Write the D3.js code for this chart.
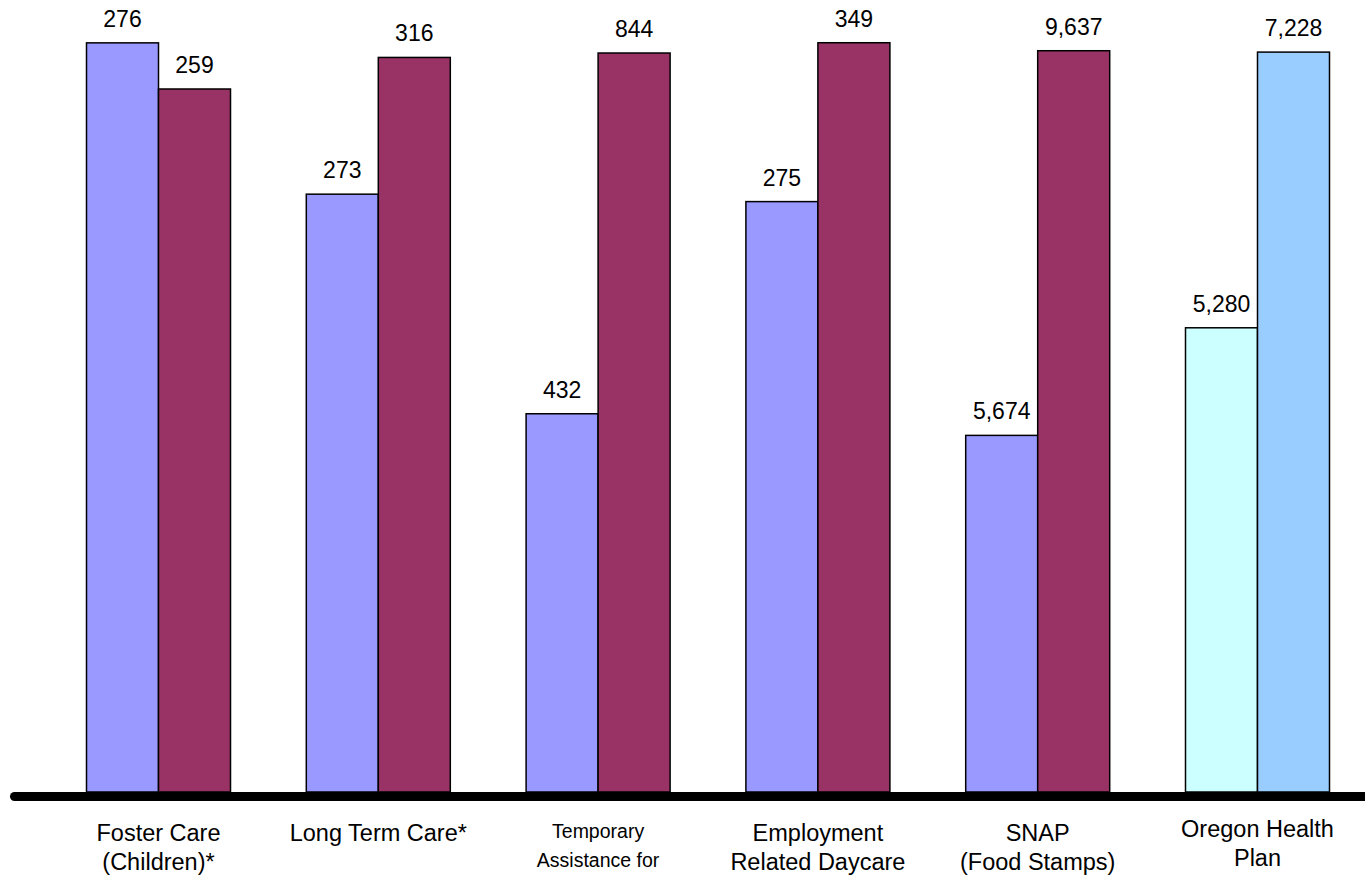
<!DOCTYPE html>
<html>
<head>
<meta charset="utf-8">
<script src="https://cdn.jsdelivr.net/npm/d3@7"></script>
<style>
  html, body { margin: 0; padding: 0; background: #fff; }
  svg { display: block; }
  text { font-family: "Liberation Sans", Arial, sans-serif; fill: #000; }
</style>
</head>
<body>
<svg id="chart" width="1365" height="879"></svg>
<script>
// ---- data ----
const categories = ["Foster Care", "Long Term Care", "TANF", "Employment Related Daycare", "SNAP", "Oregon Health Plan"];
const categoryLabelLines = [
  ["Foster Care", "(Children)*"],
  ["Long Term Care*"],
  ["Temporary", "Assistance for"],
  ["Employment", "Related Daycare"],
  ["SNAP", "(Food Stamps)"],
  ["Oregon Health", "Plan"]
];
const seriesA = [276, 273, 432, 275, 5674, 5280];
const seriesB = [259, 316, 844, 349, 9637, 7228];
// each group was drawn on its own value axis
const groupAxisMin = [0, 85, 0, 0, 2000, 2000];
const groupAxisMax = [280, 324, 868, 354, 9830, 7370];
const colorsA = ["#9999FF", "#9999FF", "#9999FF", "#9999FF", "#9999FF", "#CCFFFF"];
const colorsB = ["#993366", "#993366", "#993366", "#993366", "#993366", "#99CCFF"];

// ---- layout ----
const W = 1365, H = 879;
const baseY = 792, topY = 32;
const barW = 72;
const svg = d3.select("#chart");

const x = d3.scaleBand().domain(categories).range([48.6, 1367.4]).paddingInner(0).paddingOuter(0);
const yScales = categories.map((c, i) =>
  d3.scaleLinear().domain([groupAxisMin[i], groupAxisMax[i]]).range([baseY, topY]));

const fmt = d3.format(",");

const bars = [];
categories.forEach((c, i) => {
  const cx = x(c) + x.bandwidth() / 2;
  bars.push({cat: c, i, v: seriesA[i], x: cx - barW, fill: colorsA[i]});
  bars.push({cat: c, i, v: seriesB[i], x: cx, fill: colorsB[i]});
});

svg.selectAll("rect.bar").data(bars).join("rect")
  .attr("class", "bar")
  .attr("x", d => d.x)
  .attr("y", d => yScales[d.i](d.v))
  .attr("width", barW)
  .attr("height", d => baseY - yScales[d.i](d.v))
  .attr("fill", d => d.fill)
  .attr("stroke", "#000")
  .attr("stroke-width", 1.5);

svg.selectAll("text.val").data(bars).join("text")
  .attr("class", "val")
  .attr("x", d => d.x + barW / 2)
  .attr("y", d => yScales[d.i](d.v) - 16)
  .attr("text-anchor", "middle")
  .attr("font-size", 23)
  .text(d => fmt(d.v));

// baseline axis
svg.append("line")
  .attr("x1", 14.5).attr("x2", W + 10)
  .attr("y1", 796.5).attr("y2", 796.5)
  .attr("stroke", "#000")
  .attr("stroke-width", 9)
  .attr("stroke-linecap", "round");

// category labels
categories.forEach((c, i) => {
  const cx = x(c) + x.bandwidth() / 2;
  const small = i === 2;
  const t = svg.append("text")
    .attr("text-anchor", "middle")
    .attr("font-size", small ? 19.5 : 23.5)
    .attr("x", cx)
    .attr("y", i === 5 ? 837 : (small ? 838 : 841));
  categoryLabelLines[i].forEach((line, k) => {
    t.append("tspan").attr("x", cx).attr("dy", k === 0 ? 0 : 29).text(line);
  });
});
</script>
</body>
</html>
